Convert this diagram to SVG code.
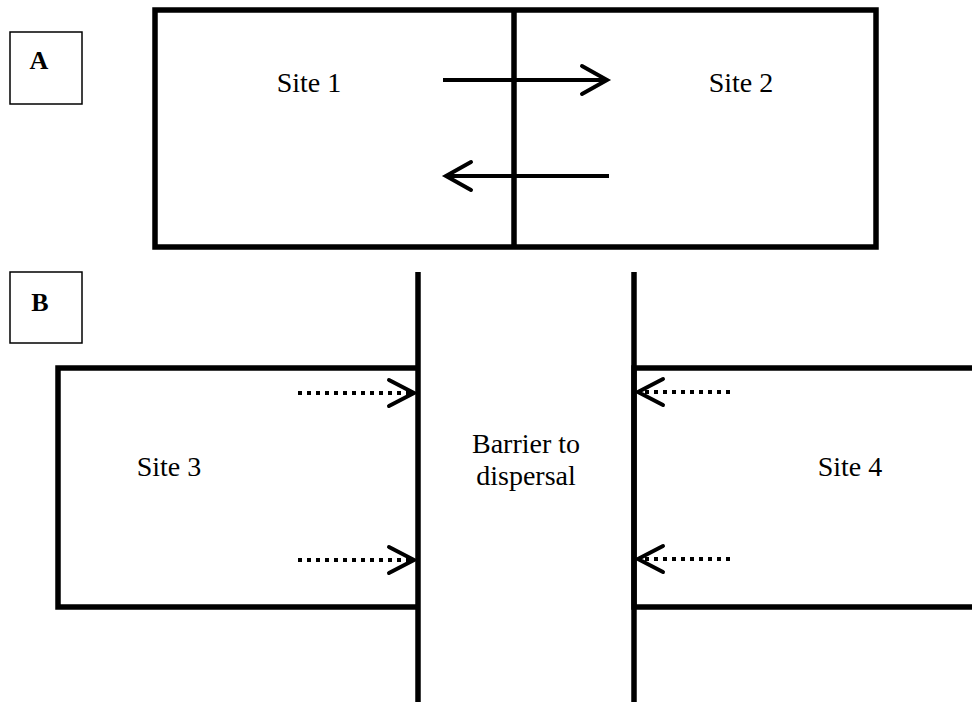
<svg xmlns="http://www.w3.org/2000/svg" width="972" height="702" viewBox="0 0 972 702">
<style>
.lbl{font-family:"Liberation Serif","DejaVu Serif",serif;font-size:28px;fill:#000;text-anchor:middle}
.tag{font-family:"Liberation Serif","DejaVu Serif",serif;font-size:26px;font-weight:bold;fill:#000;text-anchor:middle}
.thin{fill:none;stroke:#000;stroke-width:1.5}
.thick{fill:none;stroke:#000;stroke-width:5.5}
.arr{fill:none;stroke:#000;stroke-width:4}
.dot{fill:none;stroke:#000;stroke-width:4;stroke-dasharray:4 5}
.head{fill:none;stroke:#000;stroke-width:4;stroke-linecap:round;stroke-linejoin:miter}
</style>
<rect width="972" height="702" fill="#fff"/>
<g id="labelA"><rect class="thin" x="10" y="32" width="72" height="72"/><text class="tag" x="39" y="69">A</text></g>
<g id="labelB"><rect class="thin" x="10" y="272" width="72" height="71"/><text class="tag" x="40" y="311">B</text></g>
<g id="panelA">
<rect class="thick" x="155" y="10" width="721" height="237"/>
<line class="thick" x1="514" y1="10" x2="514" y2="247"/>
</g>
<g id="site1"><text class="lbl" x="309" y="92">Site 1</text></g>
<g id="site2"><text class="lbl" x="741" y="92">Site 2</text></g>
<g id="barrier">
<line class="thick" x1="418" y1="272" x2="418" y2="702"/>
<line class="thick" x1="634" y1="272" x2="634" y2="702"/>
<text class="lbl" x="526" y="453">Barrier to</text>
<text class="lbl" x="526" y="485">dispersal</text>
</g>
<g id="site3">
<polyline class="thick" points="418,368 58,368 58,607 418,607"/>
<text class="lbl" x="169" y="476">Site 3</text>
</g>
<g id="site4">
<polyline class="thick" points="972,368 634,368 634,607 972,607"/>
<text class="lbl" x="850" y="476">Site 4</text>
</g>
<g id="connectors">
<line class="arr" x1="443" y1="80" x2="606" y2="80"/>
<polyline class="head" points="582,66 607,80 582,94"/>
<line class="arr" x1="609" y1="176" x2="447" y2="176"/>
<polyline class="head" points="471,162 446,176 471,190"/>
<line class="dot" x1="298" y1="393" x2="412" y2="393"/>
<polyline class="head" points="389,380 414,393 389,406"/>
<line class="dot" x1="298" y1="560" x2="412" y2="560"/>
<polyline class="head" points="389,547 414,560 389,573"/>
<line class="dot" x1="730" y1="392" x2="640" y2="392"/>
<polyline class="head" points="663,379 638,392 663,405"/>
<line class="dot" x1="730" y1="559" x2="640" y2="559"/>
<polyline class="head" points="663,546 638,559 663,572"/>
</g>
</svg>
